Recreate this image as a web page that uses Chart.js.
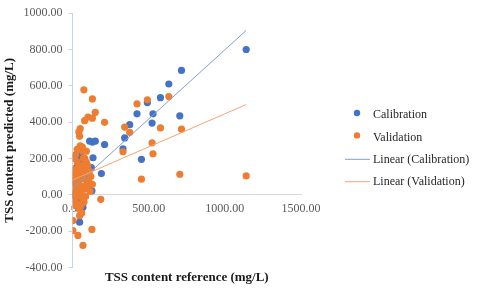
<!DOCTYPE html>
<html>
<head>
<meta charset="utf-8">
<script src="https://cdn.jsdelivr.net/npm/chart.js@4.4.0/dist/chart.umd.min.js"></script>
<style>
  html, body { margin: 0; padding: 0; background: #fff; }
</style>
</head>
<body>
<canvas id="myChart" width="480" height="292"></canvas>
<script>
// values
const calX = [1140, 715, 632, 577, 491, 423, 528, 704, 522, 375, 342, 331, 452, 210, 189,
  112, 130, 149, 134, 123, 100, 127, 50, 68, 46, 68, 20, 35, 40, 55, 30, 60, 80, 95, 45, 25, 70, 100, 15, 85];
const calY = [800, 685, 610, 535, 508, 446, 446, 435, 395, 386, 313, 253, 195, 277, 117,
  295, 290, 295, 204, 149, 150, 22, 240, -69, -151, -33, 60, 120, 180, 210, 10, 90, 130, 60, -20, 150, 170, 100, -5, 40];

const valX = [1140, 715, 704, 632, 577, 491, 423, 522, 528, 452, 375, 342, 331, 210, 185,
  74, 130, 149, 130, 101, 79, 50, 41, 46, 64, 130, 2, 2, 35, 127, 68, 46,
  10, 20, 30, 40, 50, 60, 70, 80, 90, 5, 15, 25, 35, 45, 55, 65, 75, 85, 95, 110, 100,
  10, 20, 30, 40, 50, 60, 70, 80, 15, 25, 35, 45, 55, 5, 120, 105, 65, 75, 90, 10, 50, 30, 20, 60, 85, 115, 100];
const valY = [104, 362, 113, 541, 368, 523, 501, 286, 226, 86, 344, 373, 237, 399, -25,
  578, 528, 454, 422, 428, 408, 364, 346, 322, 262, 58, -142, -197, -224, -191, -279, -115,
  200, 220, 180, 150, 130, 110, 90, 200, 240, 100, 80, 60, 40, 20, 0, -20, -40, 50, 120, 130, 40,
  140, 120, 100, 70, 50, 160, 200, 30, 10, -10, -50, -80, -60, 30, 100, 80, 240, 150, 180, -30, 270, 250, -60, -100, -10, 20, 160];

// trendline end points
const calLineX = [5, 1140];
const calLineY = [40, 905];
const valLineX = [2, 1140];
const valLineY = [82, 497];

const xTicks = [0, 500, 1000, 1500];
const yTicks = [-400, -200, 0, 200, 400, 600, 800, 1000];

function pts(xs, ys) {
  return xs.map(function (x, i) { return { x: x, y: ys[i] }; });
}

const serif = '"Liberation Serif", "Times New Roman", serif';

// legend drawn at the right like the spreadsheet one
const sideLegend = {
  id: 'sideLegend',
  afterDraw(chart) {
    const ctx = chart.ctx;
    ctx.save();
    ctx.font = '12px ' + serif;
    ctx.textBaseline = 'middle';
    chart.data.datasets.forEach(function (ds, i) {
      const y = 114 + i * 22.4;
      if (ds.type === 'line') {
        ctx.strokeStyle = ds.borderColor;
        ctx.lineWidth = 1;
        ctx.beginPath();
        ctx.moveTo(345, y + 0.5);
        ctx.lineTo(370, y + 0.5);
        ctx.stroke();
      } else {
        ctx.fillStyle = ds.backgroundColor;
        ctx.beginPath();
        ctx.arc(357, y - 1, 3.2, 0, Math.PI * 2);
        ctx.fill();
      }
      ctx.fillStyle = '#262626';
      ctx.fillText(ds.label, 373, y + 1);
    });
    ctx.restore();
  }
};

const ctx = document.getElementById('myChart');
const myChart = new Chart(ctx, {
  type: 'scatter',
  data: {
    datasets: [{
      label: 'Calibration',
      data: pts(calX, calY),
      backgroundColor: '#4472C4',
      borderWidth: 0,
      pointRadius: 3.6,
      order: 4
    }, {
      label: 'Validation',
      data: pts(valX, valY),
      backgroundColor: '#ED7D31',
      borderWidth: 0,
      pointRadius: 3.6,
      order: 3
    }, {
      type: 'line',
      label: 'Linear (Calibration)',
      data: pts(calLineX, calLineY),
      borderColor: '#7f9fd8',
      borderWidth: 1,
      pointRadius: 0,
      order: 2
    }, {
      type: 'line',
      label: 'Linear (Validation)',
      data: pts(valLineX, valLineY),
      borderColor: '#f3a46f',
      borderWidth: 1,
      pointRadius: 0,
      order: 1
    }]
  },
  options: {
    responsive: false,
    animation: false,
    layout: { padding: { left: 0, right: 179, top: 9, bottom: 0 } },
    plugins: {
      legend: { display: false },
      tooltip: { enabled: false },
      title: {
        display: true,
        position: 'bottom',
        fullSize: false,
        text: 'TSS content reference (mg/L)',
        color: '#1a1a1a',
        font: { family: serif, size: 13, weight: 'bold' },
        padding: { top: 2, bottom: 7 }
      }
    },
    scales: {
      x: {
        type: 'linear',
        min: 0,
        max: 1500,
        position: { y: 0 },
        afterBuildTicks: function (axis) { axis.ticks = xTicks.map(function (v) { return { value: v }; }); },
        ticks: {
          callback: function (v) { return Number(v).toFixed(2); },
          color: '#595959',
          font: { family: serif, size: 12 },
          padding: 7,
          maxRotation: 0
        },
        grid: { drawOnChartArea: false, tickLength: 0, color: '#d9d9d9' },
        border: { color: '#d9d9d9' }
      },
      y: {
        min: -400,
        max: 1000,
        afterBuildTicks: function (axis) { axis.ticks = yTicks.map(function (v) { return { value: v }; }); },
        ticks: {
          callback: function (v) { return Number(v).toFixed(2); },
          color: '#595959',
          font: { family: serif, size: 12 },
          padding: 6
        },
        grid: { drawOnChartArea: false, tickLength: 4, color: '#c9d3e6' },
        border: { color: '#c9d3e6' },
        title: {
          display: true,
          text: 'TSS content predicted (mg/L)',
          color: '#1a1a1a',
          font: { family: serif, size: 13, weight: 'bold' },
          padding: { top: 2, bottom: 0 }
        }
      }
    }
  },
  plugins: [sideLegend]
});
</script>
</body>
</html>
